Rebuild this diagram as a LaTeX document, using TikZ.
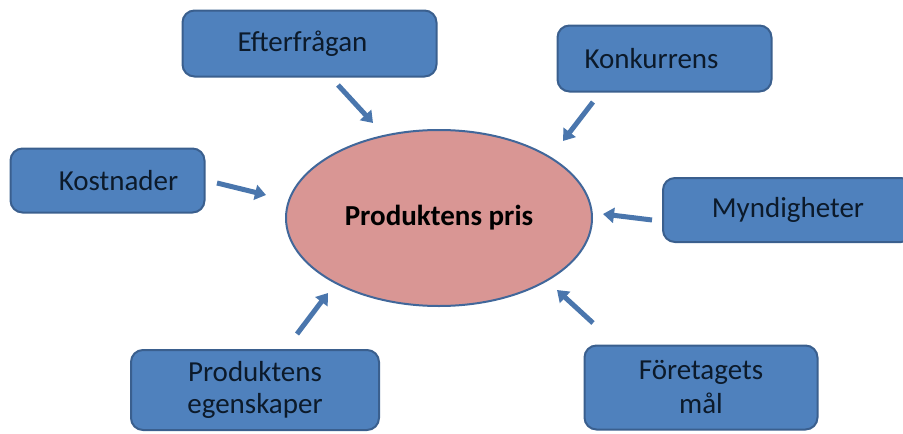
\documentclass[tikz,border=0pt]{standalone}
\usepackage{fontspec}
\setmainfont{Carlito}
\usetikzlibrary{arrows.meta,shapes.geometric}
\definecolor{boxfill}{HTML}{4F81BD}
\definecolor{boxline}{HTML}{3A5F8E}
\definecolor{ellfill}{HTML}{D99694}
\definecolor{ellline}{HTML}{41679A}
\definecolor{arrcol}{HTML}{4A76AD}
\definecolor{txt}{HTML}{0C1A2A}
\tikzset{
  box/.style={draw=boxline, fill=boxfill, line width=2pt, rounded corners=12pt,
    text=txt, font=\fontsize{29}{34}\selectfont, align=center, inner sep=0pt},
  arr/.style={draw=arrcol, line width=5pt, -{Triangle[length=11pt,width=15pt]}},
}
\begin{document}
\begin{tikzpicture}[x=1pt,y=-1pt]
\useasboundingbox (0,0) rectangle (903,434);
\node[draw=ellline, fill=ellfill, line width=2pt, ellipse, minimum width=306pt, minimum height=176pt,
  font=\fontsize{29}{34}\selectfont\bfseries, text=black] (pris) at (439,218) {\raisebox{5pt}{Produktens pris}};
\node[box, minimum width=254pt, minimum height=66pt] (efter) at (309.5,43.5) {\hspace*{-14pt}Efterfrågan};
\node[box, minimum width=214pt, minimum height=66pt] (konk) at (664.5,58.5) {\hspace*{-26pt}Konkurrens};
\node[box, minimum width=194pt, minimum height=64pt] (kost) at (107.5,180.5) {\hspace*{22pt}Kostnader};
\node[box, minimum width=250pt, minimum height=64pt] (mynd) at (788,210) {Myndigheter};
\node[box, minimum width=248pt, minimum height=80pt] (egen) at (255,390) {Produktens\\[-2pt]egenskaper};
\node[box, minimum width=233pt, minimum height=84pt] (foer) at (701,387.5) {Företagets\\mål};
\coordinate (e1) at (338,85);  \coordinate (e2) at (373,123);
\coordinate (k1) at (593,102); \coordinate (k2) at (563,141);
\coordinate (c1) at (217,183); \coordinate (c2) at (266,195);
\coordinate (m1) at (652,220); \coordinate (m2) at (603,214);
\coordinate (f1) at (593,323); \coordinate (f2) at (557,290);
\coordinate (g1) at (297,334); \coordinate (g2) at (328,293);
\draw[arr] (e1) -- (e2);
\draw[arr] (k1) -- (k2);
\draw[arr] (c1) -- (c2);
\draw[arr] (m1) -- (m2);
\draw[arr] (f1) -- (f2);
\draw[arr] (g1) -- (g2);
\end{tikzpicture}
\end{document}
